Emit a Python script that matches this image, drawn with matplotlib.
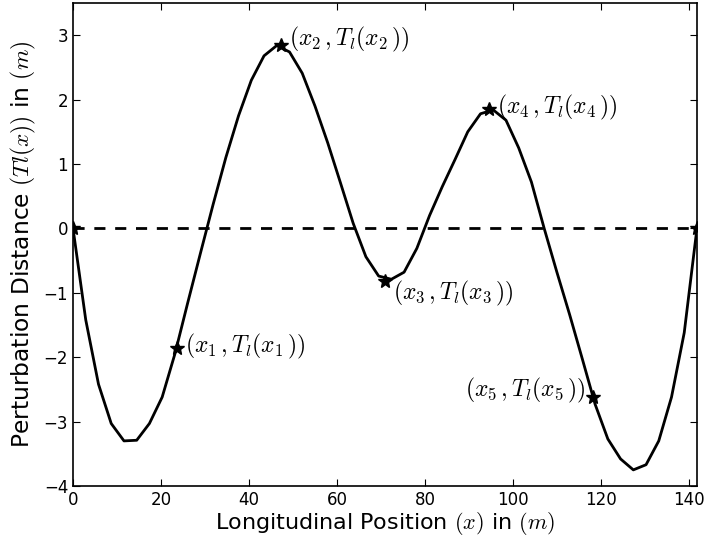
import matplotlib
matplotlib.use("Agg")
import matplotlib.pyplot as plt

x_pos = [0.0, 2.89, 5.79, 8.68, 11.58, 14.47, 17.36, 20.26, 23.15, 26.05,
         28.94, 31.83, 34.73, 37.62, 40.52, 43.41, 46.30, 49.20, 52.09, 54.99,
         57.88, 60.77, 63.67, 66.56, 69.46, 72.35, 75.24, 78.14, 81.03, 83.93,
         86.82, 89.71, 92.61, 95.50, 98.40, 101.29, 104.18, 107.08, 109.97, 112.87,
         115.76, 118.65, 121.55, 124.44, 127.34, 130.23, 133.12, 136.02, 138.91, 141.80]
tl = [0.0, -1.42, -2.42, -3.03, -3.30, -3.29, -3.03, -2.62, -1.95, -1.16,
      -0.39, 0.37, 1.10, 1.75, 2.30, 2.68, 2.84, 2.74, 2.41, 1.90,
      1.33, 0.71, 0.08, -0.44, -0.74, -0.79, -0.68, -0.31, 0.20, 0.65,
      1.07, 1.50, 1.78, 1.84, 1.68, 1.25, 0.72, 0.0, -0.68, -1.34,
      -2.03, -2.73, -3.27, -3.58, -3.75, -3.67, -3.30, -2.62, -1.62, 0.0]

# the five marked points plus the two ends
star_x = [0.0, 23.6, 47.2, 70.9, 94.5, 118.2, 141.8]
star_y = [0.0, -1.85, 2.85, -0.82, 1.85, -2.62, 0.0]
star_labels = [None, r"$(x_1\,,T_l(x_1\,))$", r"$(x_2\,,T_l(x_2\,))$",
               r"$(x_3\,,T_l(x_3\,))$", r"$(x_4\,,T_l(x_4\,))$",
               r"$(x_5\,,T_l(x_5\,))$", None]
# label offsets in points and alignment
label_offsets = [None, (6, 1), (6, 4), (6, -9), (6, 1), (-5, 5), None]
label_ha = [None, "left", "left", "left", "left", "right", None]

x_ticks = [0, 20, 40, 60, 80, 100, 120, 140]
y_ticks = [-4, -3, -2, -1, 0, 1, 2, 3]

plt.rcParams["mathtext.fontset"] = "cm"
plt.rcParams["xtick.direction"] = "in"
plt.rcParams["ytick.direction"] = "in"
plt.rcParams["xtick.top"] = True
plt.rcParams["ytick.right"] = True
plt.rcParams["xtick.major.size"] = 5
plt.rcParams["ytick.major.size"] = 5

fig = plt.figure(figsize=(7.09, 5.38), dpi=100)
ax = fig.add_axes([0.103, 0.0967, 0.880, 0.8977])

ax.plot(x_pos, tl, color="black", lw=2)
ax.plot([x_pos[0], x_pos[-1]], [0, 0], color="black", lw=2, linestyle="--",
        dashes=(4, 3.5))
ax.plot(star_x, star_y, linestyle="", marker="*", color="black", markersize=10.5)

for sx, sy, lab, off, ha in zip(star_x, star_y, star_labels, label_offsets, label_ha):
    if lab is None:
        continue
    ax.annotate(lab, (sx, sy), xytext=off, textcoords="offset points",
                ha=ha, va="center", fontsize=17)

ax.set_xlim(0, 141.8)
ax.set_ylim(-4, 3.5)
ax.set_xticks(x_ticks)
ax.set_yticks(y_ticks)
ax.tick_params(labelsize=12)
for s in ax.spines.values():
    s.set_linewidth(1.2)
ax.set_xlabel(r"Longitudinal Position $(x)$ in $(m)$", fontsize=16, labelpad=1)
ax.set_ylabel(r"Perturbation Distance $(Tl(x))$ in $(m)$", fontsize=16.8, labelpad=4)

fig.savefig("out.png", dpi=100)
